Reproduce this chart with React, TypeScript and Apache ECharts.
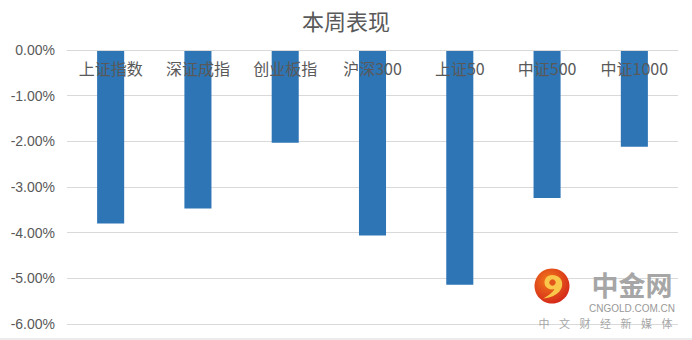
import React, { useEffect, useRef } from "react";
import * as echarts from "echarts";

const categories = ["上证指数", "深证成指", "创业板指", "沪深300", "上证50", "中证500", "中证1000"];
const weeklyChange = [-3.8, -3.47, -2.03, -4.06, -5.14, -3.24, -2.12];
const titleText = "本周表现";
const yMin = -6;
const yMax = 0;
const yInterval = 1;
const wmChars = ["中", "文", "财", "经", "新", "媒", "体"];

const swirl =
  "M50 18 C72 18 84 34 79 53 C73 72 52 84 24 87 C42 77 54 67 57 59 C44 63 28 56 28 40 C28 27 38 18 50 18 Z";

export default function App() {
  const ref = useRef<HTMLDivElement>(null);
  useEffect(() => {
    if (!ref.current) return;
    try {
      echarts.graphic.registerShape("logo", echarts.graphic.extendPath(swirl, {}) as any);
    } catch (e) {}
    const chart = echarts.init(ref.current, null, { renderer: "svg" });
    const font = "'Noto Sans CJK SC', 'Microsoft YaHei', sans-serif";
    const wm: any[] = wmChars.map((c, i) => ({
      type: "text",
      x: 544 + i * 20.5,
      y: 323,
      style: { text: c, fill: "#a6a6a6", fontSize: 11, fontFamily: font, align: "center", verticalAlign: "middle" },
      z: 100,
    }));
    chart.setOption({
      animation: false,
      backgroundColor: "#ffffff",
      title: {
        text: titleText,
        left: "center",
        top: 4,
        textStyle: { color: "#595959", fontSize: 22, fontWeight: "normal", fontFamily: font },
      },
      grid: { left: 67, right: 14, top: 50, bottom: 16, containLabel: false, outerBoundsMode: "none" },
      xAxis: {
        type: "category",
        data: categories,
        position: "top",
        z: 5,
        axisLine: { show: true, onZero: false, lineStyle: { color: "#d9d9d9" } },
        axisTick: { show: false },
        axisLabel: { inside: true, color: "#595959", fontSize: 16, margin: 10, fontFamily: font, interval: 0 },
      },
      yAxis: {
        type: "value",
        min: yMin,
        max: yMax,
        interval: yInterval,
        axisLine: { show: false },
        axisTick: { show: false },
        splitLine: { lineStyle: { color: "#d9d9d9" } },
        axisLabel: {
          color: "#595959",
          fontSize: 14,
          margin: 12,
          fontFamily: "'Liberation Sans', Arial, sans-serif",
          formatter: (v: number) => v.toFixed(2) + "%",
        },
      },
      series: [
        {
          type: "bar",
          data: weeklyChange,
          barWidth: "31%",
          itemStyle: { color: "#2e75b6" },
        },
      ],
      graphic: [
        { type: "line", shape: { x1: 0, y1: 339, x2: 692, y2: 339 }, style: { stroke: "#d9d9d9", lineWidth: 1 } },
        {
          type: "circle",
          shape: { cx: 552, cy: 286, r: 17.5 },
          style: {
            fill: new echarts.graphic.RadialGradient(0.4, 0.35, 0.7, [
              { offset: 0, color: "#f27a1a" },
              { offset: 1, color: "#d3261a" },
            ]),
          },
          z: 100,
        },
        {
          type: "logo",
          x: 535,
          y: 269,
          scaleX: 0.34,
          scaleY: 0.34,
          style: { fill: "#f9c74a" },
          z: 101,
        },
        { type: "circle", shape: { cx: 552.5, cy: 282.5, r: 3.2 }, style: { fill: "#e2561c" }, z: 102 },
        {
          type: "text",
          x: 632,
          y: 284,
          style: {
            text: "中金网",
            fill: "#a6a6a6",
            fontSize: 27,
            fontWeight: "bold",
            fontFamily: font,
            align: "center",
            verticalAlign: "middle",
          },
          z: 100,
        },
        {
          type: "text",
          x: 632,
          y: 308,
          style: {
            text: "CNGOLD.COM.CN",
            fill: "#999999",
            fontSize: 10,
            fontFamily: "'Liberation Sans', Arial, sans-serif",
            align: "center",
            verticalAlign: "middle",
          },
          z: 100,
        },
        ...wm,
      ],
    });
    return () => chart.dispose();
  }, []);
  return <div ref={ref} style={{ position: "fixed", left: 0, top: 0, width: 692, height: 340 }} />;
}
